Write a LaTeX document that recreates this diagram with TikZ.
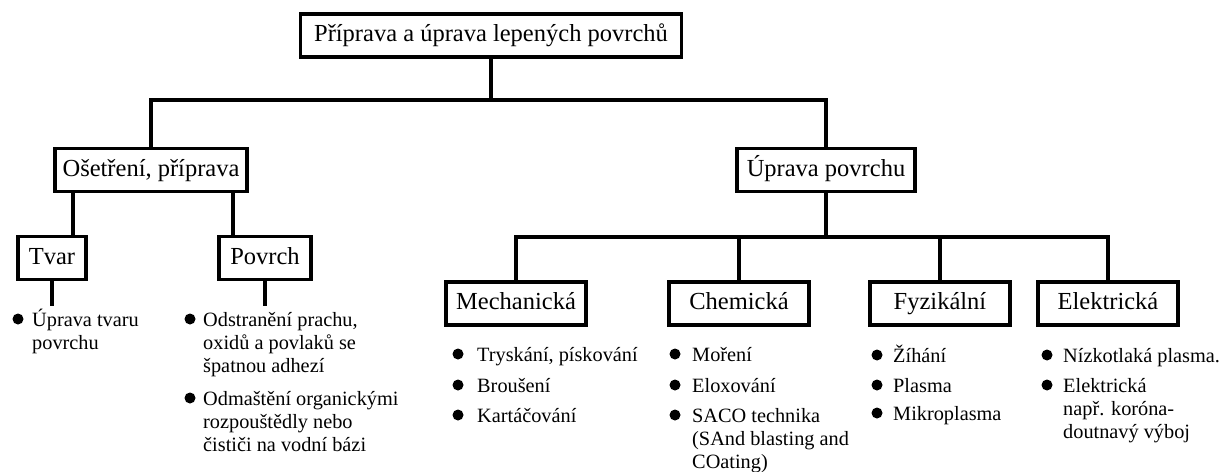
\documentclass[tikz,border=0pt]{standalone}
\usepackage{fontspec}
\setmainfont{Liberation Serif}
\usepackage{tikz}

\begin{document}
\begin{tikzpicture}[x=1pt,y=-1pt,
    box/.style={draw,line width=3.2pt,inner sep=0pt,minimum height=43pt,
      text height=17pt,text depth=5pt,font=\fontsize{24.5}{28}\selectfont},
    wire/.style={line width=3.2pt},
    item/.style={anchor=north west,inner sep=0pt,align=left,
      font=\fontsize{20.3}{23}\selectfont},
    dot/.style={radius=5.5pt}]
  \useasboundingbox (0,0) rectangle (1220,471);
  % boxes
  \node[box,minimum width=381pt] (top) at (491,35.5) {Příprava a úprava lepených povrchů};
  \node[box,minimum width=192pt] (osetreni) at (151,170) {Ošetření, příprava};
  \node[box,minimum width=178pt] (uprava) at (826,170) {Úprava povrchu};
  \node[box,minimum width=68pt] (tvar) at (52,258) {Tvar};
  \node[box,minimum width=92pt] (povrch) at (265,258) {Povrch};
  \node[box,minimum width=140pt] (mech) at (516,303.5) {Mechanická};
  \node[box,minimum width=140pt] (chem) at (739,303.5) {Chemická};
  \node[box,minimum width=140pt] (fyz) at (940,303.5) {Fyzikální};
  \node[box,minimum width=140pt] (elek) at (1108,303.5) {Elektrická};
  \coordinate (bus1) at (0,100);
  \coordinate (bus2) at (0,237);
  \coordinate (dropT) at (73,0);
  \coordinate (dropP) at (233,0);
  % items
  \node[item] (tvarA) at (32,306) {\rule{0pt}{20pt}Úprava tvaru\\povrchu};
  \node[item] (povrchA) at (203,306) {\rule{0pt}{20pt}Odstranění prachu,\\oxidů a povlaků se\\špatnou adhezí};
  \node[item] (povrchB) at (203,385) {\rule{0pt}{20pt}Odmaštění organickými\\rozpouštědly nebo\\čističi na vodní bázi};
  \node[item] (mechA) at (477,341) {\rule{0pt}{20pt}Tryskání, pískování};
  \node[item] (mechB) at (477,372) {\rule{0pt}{20pt}Broušení};
  \node[item] (mechC) at (477,402) {\rule{0pt}{20pt}Kartáčování};
  \node[item] (chemA) at (692,341) {\rule{0pt}{20pt}Moření};
  \node[item] (chemB) at (692,372) {\rule{0pt}{20pt}Eloxování};
  \node[item] (chemC) at (692,402) {\rule{0pt}{20pt}SACO technika\\(SAnd blasting and\\COating)};
  \node[item] (fyzA) at (893,342) {\rule{0pt}{20pt}Žíhání};
  \node[item] (fyzB) at (893,372) {\rule{0pt}{20pt}Plasma};
  \node[item] (fyzC) at (893,400) {\rule{0pt}{20pt}Mikroplasma};
  \node[item] (elekA) at (1063,342) {\rule{0pt}{20pt}Nízkotlaká plasma.};
  \node[item] (elekB) at (1063,372) {\rule{0pt}{20pt}Elektrická\\např. koróna-\\doutnavý výboj};
  % bullets
  \fill (18,319) circle[dot];
  \fill (190,319) circle[dot];
  \fill (190,398) circle[dot];
  \fill (458,354) circle[dot];
  \fill (458,385) circle[dot];
  \fill (458,415) circle[dot];
  \fill (675,354) circle[dot];
  \fill (675,385) circle[dot];
  \fill (675,415) circle[dot];
  \fill (877,355) circle[dot];
  \fill (877,385) circle[dot];
  \fill (877,413) circle[dot];
  \fill (1047,355) circle[dot];
  \fill (1047,385) circle[dot];
  % connectors
  \draw[wire] (top.south) -- (top.south |- bus1);
  \draw[wire] (osetreni.north) -- (osetreni.north |- bus1) -- (uprava.north |- bus1) -- (uprava.north);
  \draw[wire] (osetreni.south -| dropT) -- (tvar.north -| dropT);
  \draw[wire] (osetreni.south -| dropP) -- (povrch.north -| dropP);
  \draw[wire] (tvar.south) -- (tvar.south |- tvarA.north);
  \draw[wire] (povrch.south) -- (povrch.south |- povrchA.north);
  \draw[wire] (uprava.south) -- (uprava.south |- bus2);
  \draw[wire] (mech.north) -- (mech.north |- bus2) -- (elek.north |- bus2) -- (elek.north);
  \draw[wire] (chem.north) -- (chem.north |- bus2);
  \draw[wire] (fyz.north) -- (fyz.north |- bus2);
\end{tikzpicture}
\end{document}
